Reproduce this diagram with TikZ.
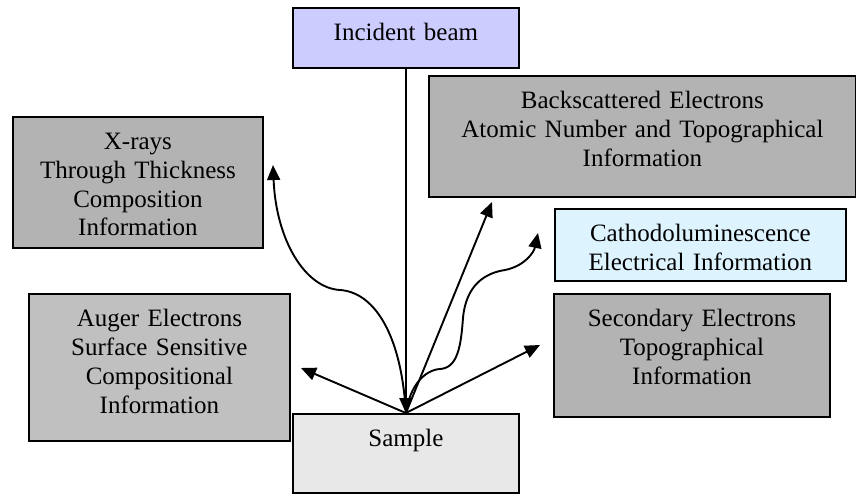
\documentclass[tikz,border=0pt]{standalone}
\usepackage{fontspec}
\setmainfont{Liberation Serif}
\usepackage{tikz}
\usetikzlibrary{arrows.meta}
\definecolor{beamblue}{RGB}{204,204,255}
\definecolor{signalgray}{RGB}{179,179,179}
\definecolor{augergray}{RGB}{192,192,192}
\definecolor{samplegray}{RGB}{232,232,232}
\definecolor{lumiblue}{RGB}{221,244,255}
\tikzset{
  infobox/.style={draw=black, line width=1.8pt, inner sep=0pt, anchor=north west,
    align=center, text height=33pt, font=\fontsize{25}{28.7}\selectfont}
}

\begin{document}
\begin{tikzpicture}[x=1pt, y=-1pt, line width=1.9pt, >={Triangle[length=15pt,width=13pt]}]
\useasboundingbox (0,0) rectangle (856,497);

\node[infobox, fill=beamblue, text width=226pt, text depth=27pt] (beam) at (292,7) {Incident beam};
\node[infobox, fill=signalgray, text width=427pt, text depth=88pt] (bse) at (428,75) {Backscattered Electrons\\ Atomic Number and Topographical\\ Information};
\node[infobox, fill=signalgray, text width=250pt, text depth=98pt] (xray) at (12,116) {X-rays\\ Through Thickness\\ Composition\\ Information};
\node[infobox, fill=lumiblue, text width=291pt, text depth=39pt] (cl) at (554,208) {Cathodoluminescence\\ Electrical Information};
\node[infobox, fill=signalgray, text width=276pt, text depth=90pt] (se) at (553,293) {Secondary Electrons\\ Topographical\\ Information};
\node[infobox, fill=augergray, text width=261pt, text depth=114pt] (auger) at (28,293) {Auger Electrons\\ Surface Sensitive\\ Compositional\\ Information};
\node[infobox, fill=samplegray, text width=226pt, text depth=46pt] (sample) at (292,413) {Sample};

\coordinate (xrayend) at (273,165);
\coordinate (bseend) at (492,202);
\coordinate (clend) at (538,233);
\coordinate (seend) at (540,345);
\coordinate (augerend) at (301,368);

\draw[->] (beam.south) -- (sample.north);
\draw[->] (sample.north) -- (augerend);
\draw[->] (sample.north) -- (bseend);
\draw[->] (sample.north) -- (seend);
\draw[->] (sample.north) .. controls (401,330) and (372,292) .. (340,290)
  .. controls (305,288) and (276,240) .. (xrayend);
\draw[->] (sample.north) .. controls (410,385) and (425,370) .. (440,369)
  .. controls (458,368) and (461,345) .. (463,318)
  .. controls (466,285) and (485,273) .. (505,270)
  .. controls (525,266) and (534,252) .. (clend);

\end{tikzpicture}
\end{document}
